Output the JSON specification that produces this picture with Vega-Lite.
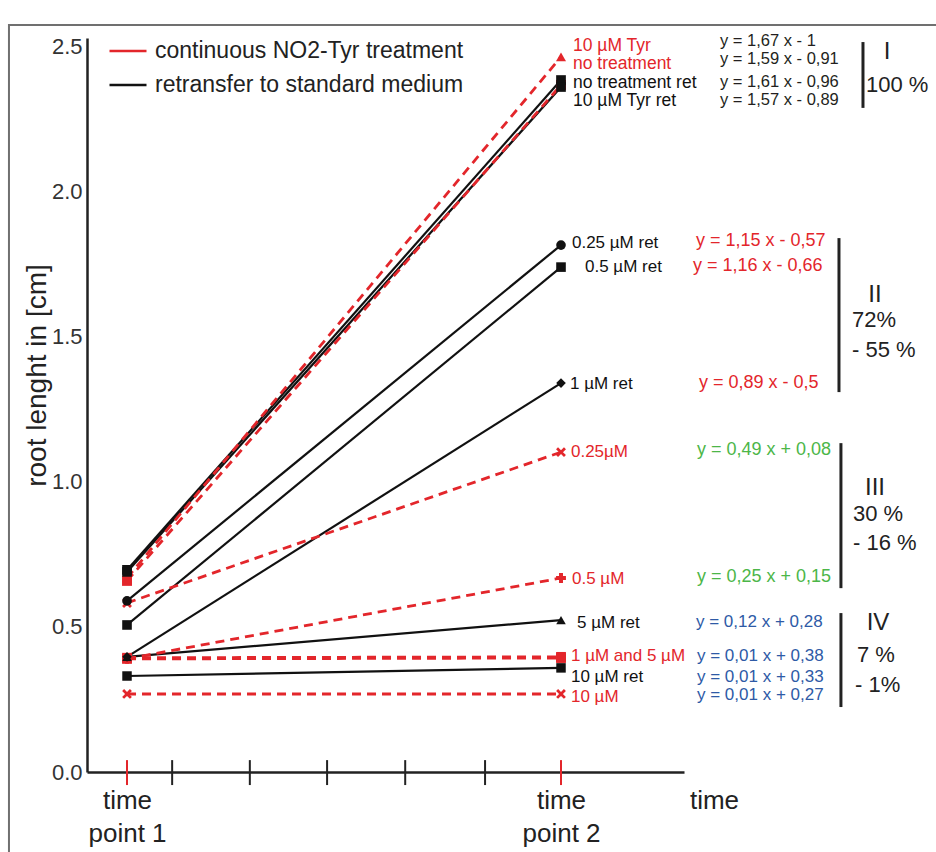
{
  "$schema": "https://vega.github.io/schema/vega-lite/v6.json",
  "width": 597,
  "height": 734,
  "autosize": {"type": "none"},
  "padding": {"left": 87, "top": 38, "right": 252, "bottom": 80},
  "background": "white",
  "config": {"view": {"stroke": null}, "font": "Liberation Sans", "axis": {"grid": false}},
  "datasets": {
    "lines": [
      {"series": "10 µM Tyr", "treatment": "continuous NO2-Tyr treatment", "t": 1, "len": 0.669},
      {"series": "10 µM Tyr", "treatment": "continuous NO2-Tyr treatment", "t": 2, "len": 2.466},
      {"series": "no treatment", "treatment": "continuous NO2-Tyr treatment", "t": 1, "len": 0.659},
      {"series": "no treatment", "treatment": "continuous NO2-Tyr treatment", "t": 2, "len": 2.369},
      {"series": "0.25 µM", "treatment": "continuous NO2-Tyr treatment", "t": 1, "len": 0.583},
      {"series": "0.25 µM", "treatment": "continuous NO2-Tyr treatment", "t": 2, "len": 1.103},
      {"series": "0.5 µM", "treatment": "continuous NO2-Tyr treatment", "t": 1, "len": 0.39},
      {"series": "0.5 µM", "treatment": "continuous NO2-Tyr treatment", "t": 2, "len": 0.669},
      {"series": "1 µM", "treatment": "continuous NO2-Tyr treatment", "t": 1, "len": 0.39},
      {"series": "1 µM", "treatment": "continuous NO2-Tyr treatment", "t": 2, "len": 0.393},
      {"series": "5 µM", "treatment": "continuous NO2-Tyr treatment", "t": 1, "len": 0.394},
      {"series": "5 µM", "treatment": "continuous NO2-Tyr treatment", "t": 2, "len": 0.397},
      {"series": "10 µM", "treatment": "continuous NO2-Tyr treatment", "t": 1, "len": 0.269},
      {"series": "10 µM", "treatment": "continuous NO2-Tyr treatment", "t": 2, "len": 0.269},
      {"series": "no treatment ret", "treatment": "retransfer to standard medium", "t": 1, "len": 0.697},
      {"series": "no treatment ret", "treatment": "retransfer to standard medium", "t": 2, "len": 2.386},
      {"series": "10 µM Tyr ret", "treatment": "retransfer to standard medium", "t": 1, "len": 0.69},
      {"series": "10 µM Tyr ret", "treatment": "retransfer to standard medium", "t": 2, "len": 2.362},
      {"series": "0.25 µM ret", "treatment": "retransfer to standard medium", "t": 1, "len": 0.59},
      {"series": "0.25 µM ret", "treatment": "retransfer to standard medium", "t": 2, "len": 1.817},
      {"series": "0.5 µM ret", "treatment": "retransfer to standard medium", "t": 1, "len": 0.507},
      {"series": "0.5 µM ret", "treatment": "retransfer to standard medium", "t": 2, "len": 1.741},
      {"series": "1 µM ret", "treatment": "retransfer to standard medium", "t": 1, "len": 0.397},
      {"series": "1 µM ret", "treatment": "retransfer to standard medium", "t": 2, "len": 1.341},
      {"series": "5 µM ret", "treatment": "retransfer to standard medium", "t": 1, "len": 0.397},
      {"series": "5 µM ret", "treatment": "retransfer to standard medium", "t": 2, "len": 0.524},
      {"series": "10 µM ret", "treatment": "retransfer to standard medium", "t": 1, "len": 0.331},
      {"series": "10 µM ret", "treatment": "retransfer to standard medium", "t": 2, "len": 0.359}
    ],
    "labels": [
      {"label": "10 µM Tyr", "treatment": "continuous NO2-Tyr treatment", "grp": "I", "lx": 2.0276, "ly": 2.503},
      {"label": "no treatment", "treatment": "continuous NO2-Tyr treatment", "grp": "I", "lx": 2.0276, "ly": 2.44},
      {"label": "no treatment ret", "treatment": "retransfer to standard medium", "grp": "I", "lx": 2.0276, "ly": 2.377},
      {"label": "10 µM Tyr ret", "treatment": "retransfer to standard medium", "grp": "I", "lx": 2.0276, "ly": 2.314},
      {"label": "0.25 µM  ret", "treatment": "retransfer to standard medium", "grp": "II", "lx": 2.0253, "ly": 1.824},
      {"label": "0.5 µM ret", "treatment": "retransfer to standard medium", "grp": "II", "lx": 2.0553, "ly": 1.741},
      {"label": "1 µM ret", "treatment": "retransfer to standard medium", "grp": "II", "lx": 2.0207, "ly": 1.338},
      {"label": "0.25µM", "treatment": "continuous NO2-Tyr treatment", "grp": "III", "lx": 2.023, "ly": 1.103},
      {"label": "0.5 µM", "treatment": "continuous NO2-Tyr treatment", "grp": "III", "lx": 2.0253, "ly": 0.666},
      {"label": "5 µM ret", "treatment": "retransfer to standard medium", "grp": "IV", "lx": 2.0369, "ly": 0.514},
      {"label": "1 µM and  5 µM", "treatment": "continuous NO2-Tyr treatment", "grp": "IV", "lx": 2.023, "ly": 0.4},
      {"label": "10 µM ret", "treatment": "retransfer to standard medium", "grp": "IV", "lx": 2.023, "ly": 0.328},
      {"label": "10 µM", "treatment": "continuous NO2-Tyr treatment", "grp": "IV", "lx": 2.023, "ly": 0.257}
    ],
    "eqs": [
      {"label": "y = 1,67 x - 1", "grp": "I", "ex": 2.3663, "ey": 2.519},
      {"label": "y = 1,59 x - 0,91", "grp": "I", "ex": 2.3663, "ey": 2.458},
      {"label": "y = 1,61 x - 0,96", "grp": "I", "ex": 2.3663, "ey": 2.379},
      {"label": "y = 1,57 x - 0,89", "grp": "I", "ex": 2.3663, "ey": 2.317},
      {"label": "y = 1,15 x - 0,57", "grp": "II", "ex": 2.311, "ey": 1.831},
      {"label": "y = 1,16 x - 0,66", "grp": "II", "ex": 2.304, "ey": 1.745},
      {"label": "y = 0,89 x - 0,5", "grp": "II", "ex": 2.318, "ey": 1.341},
      {"label": "y = 0,49 x + 0,08", "grp": "III", "ex": 2.3133, "ey": 1.11},
      {"label": "y = 0,25 x + 0,15", "grp": "III", "ex": 2.3133, "ey": 0.672},
      {"label": "y = 0,12 x + 0,28", "grp": "IV", "ex": 2.311, "ey": 0.517},
      {"label": "y = 0,01 x + 0,38", "grp": "IV", "ex": 2.3133, "ey": 0.4},
      {"label": "y = 0,01 x + 0,33", "grp": "IV", "ex": 2.3133, "ey": 0.328},
      {"label": "y = 0,01 x + 0,27", "grp": "IV", "ex": 2.3133, "ey": 0.264}
    ],
    "brackets": [
      {"grp": "I", "bx": 2.6958, "btop": 2.517, "bbot": 2.29},
      {"grp": "II", "bx": 2.6405, "btop": 1.841, "bbot": 1.31},
      {"grp": "III", "bx": 2.645, "btop": 1.134, "bbot": 0.634},
      {"grp": "IV", "bx": 2.645, "btop": 0.548, "bbot": 0.224}
    ],
    "groupText": [
      {"label": "I", "kind": "roman", "gx": 2.7511, "gy": 2.483},
      {"label": "II", "kind": "roman", "gx": 2.7235, "gy": 1.645},
      {"label": "III", "kind": "roman", "gx": 2.7235, "gy": 0.979},
      {"label": "IV", "kind": "roman", "gx": 2.7304, "gy": 0.514},
      {"label": "100 %", "kind": "pct", "gx": 2.7027, "gy": 2.369},
      {"label": "72%", "kind": "pct", "gx": 2.6705, "gy": 1.559},
      {"label": "- 55 %", "kind": "pct", "gx": 2.6705, "gy": 1.455},
      {"label": "30 %", "kind": "pct", "gx": 2.6728, "gy": 0.89},
      {"label": "- 16 %", "kind": "pct", "gx": 2.6728, "gy": 0.79},
      {"label": "7 %", "kind": "pct", "gx": 2.682, "gy": 0.403},
      {"label": "- 1%", "kind": "pct", "gx": 2.6774, "gy": 0.3}
    ],
    "ticks": [
      {"pos": 1, "tp": true},
      {"pos": 1.104, "tp": false},
      {"pos": 1.283, "tp": false},
      {"pos": 1.461, "tp": false},
      {"pos": 1.641, "tp": false},
      {"pos": 1.825, "tp": false},
      {"pos": 2, "tp": true}
    ],
    "frame": [{"part": "frame"}]
  },
  "layer": [
    {
      "data": {"name": "lines"},
      "transform": [{"filter": "datum.treatment == 'retransfer to standard medium'"}],
      "mark": {"type": "line", "strokeWidth": 2.2},
      "encoding": {
        "x": {
          "field": "t", "type": "quantitative",
          "scale": {"domain": [0.9078, 2.2834], "nice": false, "zero": false},
          "axis": {
            "values": [1, 2],
            "labelExpr": "datum.value == 1 ? ['time', 'point 1'] : ['time', 'point 2']",
            "ticks": false, "grid": false, "domainColor": "#222222", "domainWidth": 2.5,
            "labelFontSize": 26, "labelLineHeight": 33, "labelPadding": 15, "labelColor": "#222222",
            "labelFlush": false, "labelOverlap": false,
            "title": "time", "titleFontSize": 26, "titleFontWeight": "normal", "titleColor": "#222222",
            "titleX": 627, "titleY": 28, "titleAlign": "center", "titleBaseline": "middle"
          }
        },
        "y": {
          "field": "len", "type": "quantitative",
          "scale": {"domain": [0, 2.531], "nice": false, "zero": false},
          "axis": {
            "values": [0, 0.5, 1, 1.5, 2, 2.5], "format": ".1f",
            "ticks": false, "grid": false, "domainColor": "#222222", "domainWidth": 2.5,
            "labelFontSize": 22, "labelPadding": 5, "labelColor": "#333333", "labelFlush": false,
            "title": "root lenght in [cm]", "titleFontSize": 28, "titleFontWeight": "normal", "titleColor": "#222222",
            "titleX": -50, "titleY": 337, "titleAlign": "center", "titleBaseline": "middle", "titleAngle": -90
          }
        },
        "color": {
          "field": "treatment", "type": "nominal",
          "scale": {"domain": ["continuous NO2-Tyr treatment", "retransfer to standard medium"], "range": ["#e3262b", "#111111"]},
          "legend": {
            "orient": "none", "legendX": 21, "legendY": -7, "title": null,
            "symbolType": "stroke", "symbolSize": 1369, "symbolStrokeWidth": 2.5,
            "labelFontSize": 23, "labelColor": "#222", "labelOffset": 7, "rowPadding": 2,
            "padding": 0, "labelLimit": 500
          }
        },
        "detail": {"field": "series"}
      }
    },
    {
      "data": {"name": "lines"},
      "transform": [{"filter": "datum.treatment == 'continuous NO2-Tyr treatment'"}],
      "mark": {"type": "line", "strokeWidth": 2.8, "strokeDash": [9, 6]},
      "encoding": {
        "x": {"field": "t", "type": "quantitative", "scale": {"domain": [0.9078, 2.2834], "nice": false, "zero": false}},
        "y": {"field": "len", "type": "quantitative", "scale": {"domain": [0, 2.531], "nice": false, "zero": false}},
        "color": {"field": "treatment", "type": "nominal", "legend": null},
        "detail": {"field": "series"}
      }
    },
    {
      "data": {"name": "lines"},
      "mark": {"type": "point", "filled": true, "opacity": 1},
      "encoding": {
        "x": {"field": "t", "type": "quantitative", "scale": {"domain": [0.9078, 2.2834], "nice": false, "zero": false}},
        "y": {"field": "len", "type": "quantitative", "scale": {"domain": [0, 2.531], "nice": false, "zero": false}},
        "color": {"field": "treatment", "type": "nominal", "legend": null},
        "shape": {
          "field": "series", "type": "nominal", "legend": null,
          "scale": {
            "domain": ["10 µM Tyr", "no treatment", "0.25 µM", "0.5 µM", "1 µM", "5 µM", "10 µM", "no treatment ret", "10 µM Tyr ret", "0.25 µM ret", "0.5 µM ret", "1 µM ret", "5 µM ret", "10 µM ret"],
            "range": ["triangle-up", "square", "M-1,-0.6L-0.6,-1L0,-0.4L0.6,-1L1,-0.6L0.4,0L1,0.6L0.6,1L0,0.4L-0.6,1L-1,0.6L-0.4,0Z", "cross", "square", "square", "M-1,-0.6L-0.6,-1L0,-0.4L0.6,-1L1,-0.6L0.4,0L1,0.6L0.6,1L0,0.4L-0.6,1L-1,0.6L-0.4,0Z", "square", "square", "circle", "square", "diamond", "triangle-up", "square"]
          }
        },
        "size": {
          "field": "series", "type": "nominal", "legend": null,
          "scale": {
            "domain": ["10 µM Tyr", "no treatment", "0.25 µM", "0.5 µM", "1 µM", "5 µM", "10 µM", "no treatment ret", "10 µM Tyr ret", "0.25 µM ret", "0.5 µM ret", "1 µM ret", "5 µM ret", "10 µM ret"],
            "range": [100, 90, 80, 45, 90, 90, 80, 120, 120, 140, 35, 60, 100, 120]
          }
        }
      }
    },
    {
      "data": {"name": "ticks"},
      "mark": {"type": "rule", "strokeWidth": 2},
      "encoding": {
        "x": {"field": "pos", "type": "quantitative", "scale": {"domain": [0.9078, 2.2834], "nice": false, "zero": false}},
        "y": {"datum": -0.045, "type": "quantitative", "scale": {"domain": [0, 2.531], "nice": false, "zero": false}},
        "y2": {"datum": 0.041},
        "color": {"condition": {"test": "datum.tp", "value": "#e3262b"}, "value": "#222222"}
      }
    },
    {
      "data": {"name": "brackets"},
      "mark": {"type": "rule", "strokeWidth": 3, "color": "#222222"},
      "encoding": {
        "x": {"field": "bx", "type": "quantitative", "scale": {"domain": [0.9078, 2.2834], "nice": false, "zero": false}},
        "y": {"field": "btop", "type": "quantitative", "scale": {"domain": [0, 2.531], "nice": false, "zero": false}},
        "y2": {"field": "bbot"}
      }
    },
    {
      "data": {"name": "labels"},
      "transform": [{"filter": "datum.grp == 'I'"}],
      "mark": {"type": "text", "align": "left", "baseline": "middle", "fontSize": 17.5},
      "encoding": {
        "x": {"field": "lx", "type": "quantitative", "scale": {"domain": [0.9078, 2.2834], "nice": false, "zero": false}},
        "y": {"field": "ly", "type": "quantitative", "scale": {"domain": [0, 2.531], "nice": false, "zero": false}},
        "text": {"field": "label"},
        "color": {"field": "treatment", "type": "nominal", "legend": null}
      }
    },
    {
      "data": {"name": "labels"},
      "transform": [{"filter": "datum.grp != 'I'"}],
      "mark": {"type": "text", "align": "left", "baseline": "middle", "fontSize": 17},
      "encoding": {
        "x": {"field": "lx", "type": "quantitative", "scale": {"domain": [0.9078, 2.2834], "nice": false, "zero": false}},
        "y": {"field": "ly", "type": "quantitative", "scale": {"domain": [0, 2.531], "nice": false, "zero": false}},
        "text": {"field": "label"},
        "color": {"field": "treatment", "type": "nominal", "legend": null}
      }
    },
    {
      "data": {"name": "eqs"},
      "transform": [{"filter": "datum.grp == 'I'"}],
      "mark": {"type": "text", "align": "left", "baseline": "middle", "fontSize": 16.5, "color": "#231f20"},
      "encoding": {
        "x": {"field": "ex", "type": "quantitative", "scale": {"domain": [0.9078, 2.2834], "nice": false, "zero": false}},
        "y": {"field": "ey", "type": "quantitative", "scale": {"domain": [0, 2.531], "nice": false, "zero": false}},
        "text": {"field": "label"}
      }
    },
    {
      "data": {"name": "eqs"},
      "transform": [{"filter": "datum.grp == 'II'"}],
      "mark": {"type": "text", "align": "left", "baseline": "middle", "fontSize": 18, "color": "#e3262b"},
      "encoding": {
        "x": {"field": "ex", "type": "quantitative", "scale": {"domain": [0.9078, 2.2834], "nice": false, "zero": false}},
        "y": {"field": "ey", "type": "quantitative", "scale": {"domain": [0, 2.531], "nice": false, "zero": false}},
        "text": {"field": "label"}
      }
    },
    {
      "data": {"name": "eqs"},
      "transform": [{"filter": "datum.grp == 'III'"}],
      "mark": {"type": "text", "align": "left", "baseline": "middle", "fontSize": 18, "color": "#4cb648"},
      "encoding": {
        "x": {"field": "ex", "type": "quantitative", "scale": {"domain": [0.9078, 2.2834], "nice": false, "zero": false}},
        "y": {"field": "ey", "type": "quantitative", "scale": {"domain": [0, 2.531], "nice": false, "zero": false}},
        "text": {"field": "label"}
      }
    },
    {
      "data": {"name": "eqs"},
      "transform": [{"filter": "datum.grp == 'IV'"}],
      "mark": {"type": "text", "align": "left", "baseline": "middle", "fontSize": 17, "color": "#2e5aa6"},
      "encoding": {
        "x": {"field": "ex", "type": "quantitative", "scale": {"domain": [0.9078, 2.2834], "nice": false, "zero": false}},
        "y": {"field": "ey", "type": "quantitative", "scale": {"domain": [0, 2.531], "nice": false, "zero": false}},
        "text": {"field": "label"}
      }
    },
    {
      "data": {"name": "groupText"},
      "transform": [{"filter": "datum.kind == 'roman'"}],
      "mark": {"type": "text", "align": "center", "baseline": "middle", "fontSize": 24, "color": "#222222"},
      "encoding": {
        "x": {"field": "gx", "type": "quantitative", "scale": {"domain": [0.9078, 2.2834], "nice": false, "zero": false}},
        "y": {"field": "gy", "type": "quantitative", "scale": {"domain": [0, 2.531], "nice": false, "zero": false}},
        "text": {"field": "label"}
      }
    },
    {
      "data": {"name": "groupText"},
      "transform": [{"filter": "datum.kind == 'pct'"}],
      "mark": {"type": "text", "align": "left", "baseline": "middle", "fontSize": 22, "color": "#222222"},
      "encoding": {
        "x": {"field": "gx", "type": "quantitative", "scale": {"domain": [0.9078, 2.2834], "nice": false, "zero": false}},
        "y": {"field": "gy", "type": "quantitative", "scale": {"domain": [0, 2.531], "nice": false, "zero": false}},
        "text": {"field": "label"}
      }
    },
    {
      "data": {"name": "frame"},
      "mark": {"type": "rect", "filled": false, "stroke": "#707070", "strokeWidth": 2},
      "encoding": {
        "x": {"datum": 0.728, "type": "quantitative", "scale": {"domain": [0.9078, 2.2834], "nice": false, "zero": false}},
        "x2": {"datum": 2.87},
        "y": {"datum": 2.576, "type": "quantitative", "scale": {"domain": [0, 2.531], "nice": false, "zero": false}},
        "y2": {"datum": -0.4}
      }
    }
  ]
}
